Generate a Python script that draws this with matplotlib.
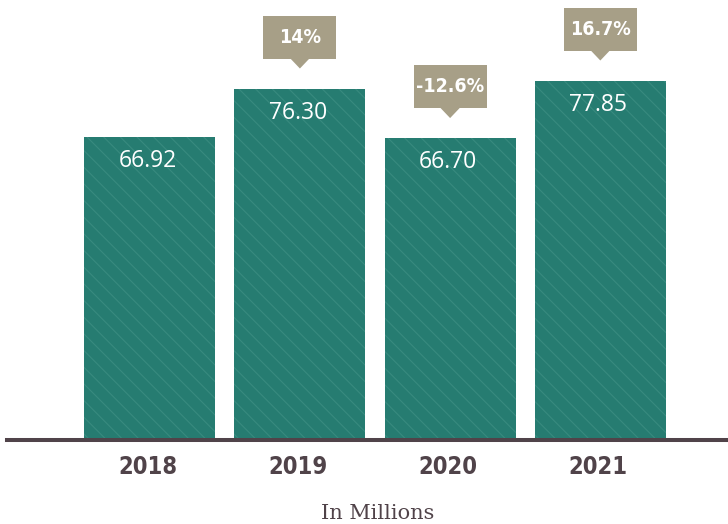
import matplotlib.pyplot as plt
from matplotlib import font_manager
from matplotlib.patches import Rectangle, Polygon

years = ['2018', '2019', '2020', '2021']
values = [66.92, 76.30, 66.70, 77.85]
changes = ['', '14%', '-12.6%', '16.7%']

teal = '#267C71'
streak = '#4E9C90'
tag = '#A79F87'
dark = '#504349'

# look for the narrowest bold face for the year / percent labels
rank = {'ultra-condensed': 0, 'extra-condensed': 1, 'condensed': 2,
        'semi-condensed': 3, 100: 0, 200: 1, 300: 2, 400: 3}
cond, best = None, 9
for f in font_manager.fontManager.ttflist:
    r = rank.get(f.stretch, 9)
    if 'Narrow' in f.name or 'Condensed' in f.name:
        r = min(r, 2)
    if f.weight in (600, 700, 'bold', 'semibold', 'demibold') and r < best:
        cond, best = f.fname, r


def cond_font(size):
    if cond:
        return font_manager.FontProperties(fname=cond, size=size)
    return font_manager.FontProperties(family='Roboto', weight='bold', size=size)


plt.rcParams['hatch.color'] = streak
plt.rcParams['hatch.linewidth'] = 0.8

fig = plt.figure(figsize=(7.28, 5.24), dpi=100)
ax = fig.add_axes([7 / 728, 84 / 524, 721 / 728, 440 / 524])
ax.set_xlim(-0.95, 3.85)
ax.set_ylim(8.2, 93.45)

x = range(len(years))
ax.bar(x, values, width=0.872, color=teal, linewidth=0, zorder=1)
ax.bar(x, values, width=0.872, facecolor='none', edgecolor=streak,
       linewidth=0, hatch='\\\\', alpha=0.45, zorder=1.5)

for s in ['top', 'left', 'right']:
    ax.spines[s].set_visible(False)
ax.spines['bottom'].set_color(dark)
ax.spines['bottom'].set_linewidth(2.9)
ax.spines['bottom'].set_zorder(3)
ax.set_xticks([])
ax.set_yticks([])

for i, v in enumerate(values):
    ax.annotate(f'{v:.2f}', xy=(i, v), xytext=(-2, -24), textcoords='offset pixels',
                ha='center', va='center', color='white', fontsize=16.5,
                family='Open Sans', zorder=4)
    ax.annotate(years[i], xy=(i, 8.2), xytext=(-2, -27), textcoords='offset pixels',
                ha='center', va='center', color=dark, fontproperties=cond_font(17),
                annotation_clip=False)

fig.canvas.draw()
for i, v in enumerate(values):
    if not changes[i]:
        continue
    xc, yt = ax.transData.transform((i, v))
    box = Rectangle((xc - 36.5, yt + 30), 73, 43, transform=None,
                    facecolor=tag, edgecolor='none', zorder=5)
    tip = Polygon([(xc - 10, yt + 30.5), (xc + 10, yt + 30.5), (xc, yt + 20)],
                  closed=True, transform=None, facecolor=tag, edgecolor='none', zorder=5)
    fig.add_artist(box)
    fig.add_artist(tip)
    fig.text(xc / 728, (yt + 51.5) / 524, changes[i], ha='center', va='center',
             color='white', fontproperties=cond_font(14), zorder=6)

fig.text(378 / 728, 1 / 524, 'In Millions', ha='center', va='bottom',
         color=dark, family='DejaVu Serif', fontsize=15)

fig.savefig('out.png', dpi=100, facecolor='white')
